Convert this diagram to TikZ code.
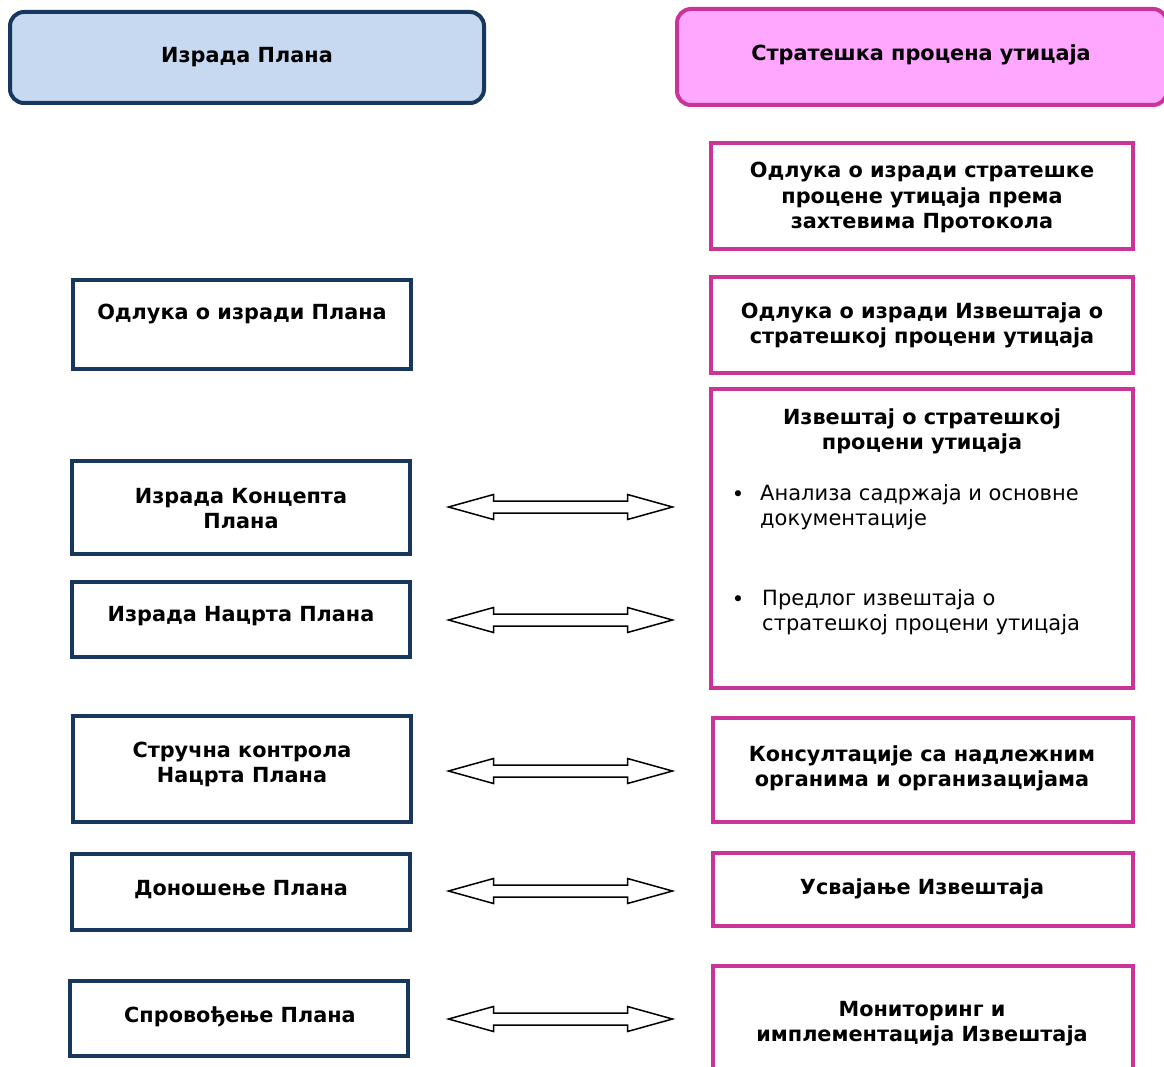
\documentclass[tikz,border=0pt]{standalone}
\usepackage{fontspec}
\setmainfont{DejaVu Sans}
\definecolor{navy}{HTML}{17375E}
\definecolor{hdrblue}{HTML}{C6D9F1}
\definecolor{magen}{HTML}{CC3399}
\definecolor{pinkfill}{HTML}{FFA6FF}
\begin{document}
\begin{tikzpicture}[x=1pt,y=-1pt,
  boxbase/.style={anchor=north west, inner sep=0pt, outer sep=0pt},
  lbox/.style={boxbase, draw=navy, line width=3.5pt},
  rbox/.style={boxbase, draw=magen, line width=3.5pt},
  lhead/.style={boxbase, draw=navy, fill=hdrblue, line width=4pt, rounded corners=14pt},
  rhead/.style={boxbase, draw=magen, fill=pinkfill, line width=4pt, rounded corners=14pt},
  btxt/.style={align=center, font=\fontsize{20.8}{25.5}\selectfont\bfseries, inner sep=0pt, yshift=-1.5pt},
  ntxt/.style={align=left, anchor=north west, font=\fontsize{21}{25.5}\selectfont, inner sep=0pt},
  bul/.style={font=\fontsize{21}{25.5}\selectfont, inner sep=0pt},
  dblarr/.pic={\draw[line width=1.5pt, line join=miter, fill=white]
    (-112,0) -- (-67,-12.5) -- (-67,-6) -- (67,-6) -- (67,-12.5) -- (112,0)
    -- (67,12.5) -- (67,6) -- (-67,6) -- (-67,12.5) -- cycle;}
]
\useasboundingbox (0,0) rectangle (1164,1067);
\newcommand\placebox[6]{%
  \pgfmathsetmacro\bw{#5-#3}\pgfmathsetmacro\bh{#6-#4}%
  \node[#1, minimum width=\bw pt, minimum height=\bh pt] (#2) at (#3,#4) {};}

% headers
\placebox{lhead}{hl}{10}{12}{484}{103}
\placebox{rhead}{hr}{677}{9}{1167}{105}
\node[btxt] (thl) at (247,56) {Израда Плана};
\node[btxt] (thr) at (921,53) {Стратешка процена утицаја};

% left column
\placebox{lbox}{l1}{73}{280}{411}{369}
\placebox{lbox}{l2}{72}{461}{410}{554}
\placebox{lbox}{l3}{72}{582}{410}{657}
\placebox{lbox}{l4}{73}{716}{411}{822}
\placebox{lbox}{l5}{72}{854}{410}{930}
\placebox{lbox}{l6}{70}{981}{408}{1056}
\node[btxt] (tl1) at (242,313) {Одлука о изради Плана};
\node[btxt] (tl2) at (241,507) {Израда Концепта\\Плана};
\node[btxt] (tl3) at (241,615) {Израда Нацрта Плана};
\node[btxt] (tl4) at (242,763) {Стручна контрола\\Нацрта Плана};
\node[btxt] (tl5) at (241,888) {Доношење Плана};
\node[btxt] (tl6) at (240,1015) {Спровођење Плана};

% right column
\placebox{rbox}{r1}{711}{143}{1133}{249}
\placebox{rbox}{r2}{711}{277}{1133}{373}
\placebox{rbox}{r3}{711}{389}{1133}{688}
\placebox{rbox}{r4}{713}{718}{1133}{822}
\placebox{rbox}{r5}{713}{853}{1133}{926}
\placebox{rbox}{r6}{713}{966}{1133}{1078}
\node[btxt] (tr1) at (922,196) {Одлука о изради стратешке\\процене утицаја према\\захтевима Протокола};
\node[btxt] (tr2) at (922,324) {Одлука о изради Извештаја о\\стратешкој процени утицаја};
\node[btxt] (tr3) at (922,430) {Извештај о стратешкој\\процени утицаја};
\node[bul] (b1) at (738,496) {•};
\node[ntxt] (tb1) at (760,484) {Анализа садржаја и основне\\документације};
\node[bul] (b2) at (738,601) {•};
\node[ntxt] (tb2) at (762,589) {Предлог извештаја о\\стратешкој процени утицаја};
\node[btxt] (tr4) at (922,767) {Консултације са надлежним\\органима и организацијама};
\node[btxt] (tr5) at (922,887) {Усвајање Извештаја};
\node[btxt] (tr6) at (922,1022) {Мониторинг и\\имплементација Извештаја};

% double arrows
\pic (a2) at (560.5,507) {dblarr};
\pic (a3) at (560.5,620) {dblarr};
\pic (a4) at (560.5,771) {dblarr};
\pic (a5) at (560.5,891) {dblarr};
\pic (a6) at (560.5,1019) {dblarr};
\end{tikzpicture}
\end{document}
